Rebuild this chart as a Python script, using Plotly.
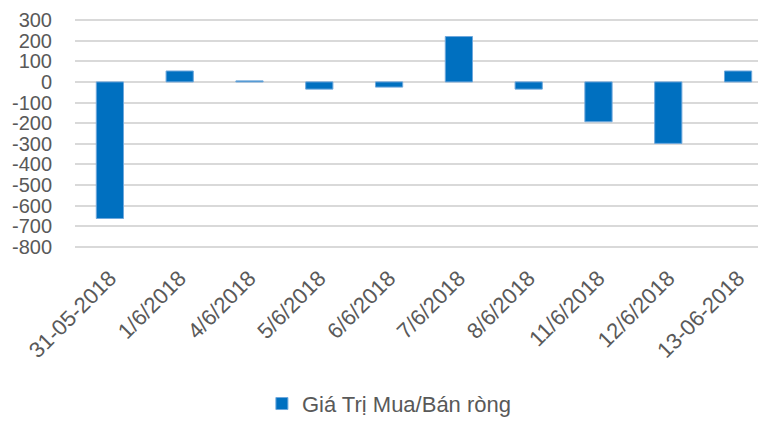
import plotly.graph_objects as go

categories = ["31-05-2018", "1/6/2018", "4/6/2018", "5/6/2018", "6/6/2018",
              "7/6/2018", "8/6/2018", "11/6/2018", "12/6/2018", "13-06-2018"]
values = [-662, 53, 5, -35, -25, 220, -35, -193, -298, 53]
series_name = "Giá Trị Mua/Bán ròng"
y_ticks = [300, 200, 100, 0, -100, -200, -300, -400, -500, -600, -700, -800]

fig = go.Figure()
fig.add_trace(go.Bar(
    x=categories, y=values, name=series_name,
    marker=dict(color="#0070C0", line=dict(color="#6FA8DC", width=1)),
    showlegend=True,
))

font_family = "Liberation Sans, Arial, sans-serif"
fig.update_layout(
    width=758, height=414,
    margin=dict(l=67, r=0, t=11, b=174, autoexpand=False),
    paper_bgcolor="white", plot_bgcolor="white",
    bargap=0.61,
    font=dict(family=font_family, color="#595959"),
    showlegend=True,
    legend=dict(orientation="h", x=0.455, xanchor="center", y=-0.68, yanchor="middle",
                font=dict(size=22, color="#595959", family=font_family),
                itemwidth=30),
    xaxis=dict(type="category", range=[-0.5, 9.4], tickangle=-45,
               tickfont=dict(size=22, color="#595959"), showgrid=False,
               showline=False, ticks="", zeroline=False, ticklabelstandoff=12),
    yaxis=dict(range=[-805, 305], tickvals=y_ticks, ticktext=[str(v) for v in y_ticks],
               tickfont=dict(size=20, color="#595959"), showgrid=True,
               gridcolor="#D9D9D9", gridwidth=1.5, zeroline=True, zerolinecolor="#D9D9D9",
               zerolinewidth=1.5, showline=False, ticks="", ticklabelstandoff=22),
)
fig.write_html("out.html")
